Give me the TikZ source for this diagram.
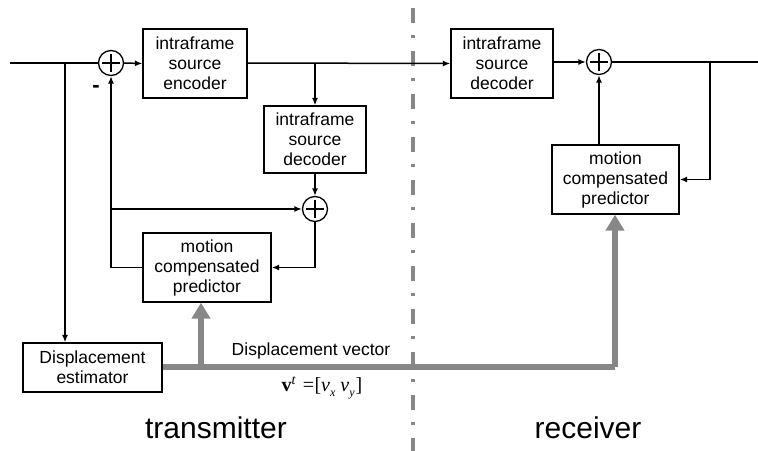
\documentclass[tikz,border=0pt]{standalone}
\usepackage{fontspec}
\setmainfont{Liberation Sans}
\newfontfamily\eqserif{Liberation Serif}
\usetikzlibrary{arrows.meta}
\definecolor{vgray}{HTML}{878787}
\tikzset{
  blk/.style={draw, line width=1.3pt, align=center, inner sep=0pt,
    font=\fontsize{17.5}{20}\selectfont},
  summ/.style={draw, circle, line width=1.3pt, minimum size=25pt, inner sep=0pt,
    path picture={\draw[line width=1.2pt] ([xshift=-9pt]path picture bounding box.center) -- ([xshift=9pt]path picture bounding box.center);
                  \draw[line width=1.2pt] ([yshift=-9pt]path picture bounding box.center) -- ([yshift=9pt]path picture bounding box.center);}},
  wire/.style={line width=1.5pt},
  arr/.style={wire, -{Latex[length=7.5pt,width=6pt]}},
  gline/.style={line width=6pt, vgray},
  garr/.style={gline, -{Triangle[length=16pt,width=18pt]}},
  lbl/.style={font=\fontsize{17.5}{20}\selectfont, inner sep=0pt},
}
\begin{document}
\begin{tikzpicture}[x=1pt,y=-1pt]
\useasboundingbox (0,0) rectangle (758,450);
\clip (0,0) rectangle (758,450);
% divider
\draw[vgray, line width=3.5pt, dash pattern=on 15pt off 12pt on 3pt off 13pt] (413,8) -- (413,452);
% blocks
\node[blk, minimum width=104pt, minimum height=69pt] (enc) at (195,63.5) {intraframe\\source\\encoder};
\node[blk, minimum width=102pt, minimum height=67pt] (tdec) at (315,139.5) {intraframe\\source\\decoder};
\node[blk, minimum width=128pt, minimum height=69pt] (tpred) at (207,267.5) {motion\\compensated\\predictor};
\node[blk, minimum width=139pt, minimum height=49pt] (est) at (92.5,367.5) {Displacement\\estimator};
\node[blk, minimum width=102pt, minimum height=69pt] (rdec) at (502,63.5) {intraframe\\source\\decoder};
\node[blk, minimum width=127pt, minimum height=69pt] (rpred) at (615.5,179.5) {motion\\compensated\\predictor};
\node[summ] (s1) at (111,63) {};
\node[summ] (s2) at (315,209) {};
\node[summ] (s3) at (599,62) {};
% coordinates
\coordinate (in) at (10,63);
\coordinate (b1) at (65,63);
\coordinate (b2) at (315,63);
\coordinate (b3) at (710,62);
\coordinate (fb) at (111,209);
\coordinate (out) at (766,62);
\coordinate (g1) at (201,367);
\coordinate (gc) at (615,367);
% black wires
\draw[wire] (in) -- (s1.west);
\draw[arr] (b1) -- (b1 |- est.north);
\draw[arr] (s1.east) -- (enc.west);
\draw[arr] (enc.east |- b2) -- (rdec.west);
\draw[arr] (b2) -- (tdec.north);
\draw[arr] (tdec.south) -- (s2.north);
\draw[arr] (s2.south) |- (tpred.east);
\draw[arr] (tpred.west) -| (s1.south);
\draw[arr] (fb) -- (s2.west);
\draw[arr] (rdec.east |- s3) -- (s3.west);
\draw[arr] (s3.east) -- (out);
\draw[arr] (b3) |- (rpred.east);
\draw[arr] (rpred.north -| s3) -- (s3.south);
% gray vector path
\draw[gline] (est.east |- g1) -- (gc);
\draw[garr] (gc) -- (gc |- rpred.south);
\draw[garr] (g1) -- (g1 |- tpred.south);
% labels
\node[font=\fontsize{22}{22}\selectfont\bfseries, inner sep=0pt] (minus) at (96,89) {-};
\node[lbl] (dv) at (311,351) {Displacement vector};
\node[inner sep=0pt, font=\fontsize{20}{22}\selectfont\eqserif] (eq) at (322,388)
  {\textbf{v}\textsuperscript{\itshape t}\,\,=\hspace{0.5pt}[\textit{v}\raisebox{-5pt}{\fontsize{12}{12}\selectfont\itshape x}\hspace{5pt}\textit{v}\raisebox{-5pt}{\fontsize{12}{12}\selectfont\itshape y}\hspace{1pt}]};
\node[inner sep=0pt, font=\fontsize{30}{34}\selectfont] (tx) at (216,428) {transmitter};
\node[inner sep=0pt, font=\fontsize{30}{34}\selectfont] (rx) at (588,428) {receiver};
\end{tikzpicture}
\end{document}
